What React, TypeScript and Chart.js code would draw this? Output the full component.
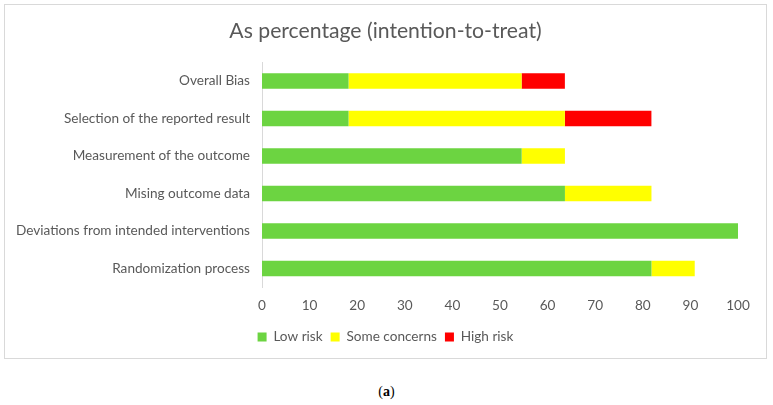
import React, { useEffect, useRef } from "react";
import { Chart, registerables } from "chart.js";

Chart.register(...registerables);

const domains = [
  "Overall Bias",
  "Selection of the reported result",
  "Measurement of the outcome",
  "Mising outcome data",
  "Deviations from intended interventions",
  "Randomization process",
];

// Share of the 11 trials per judgement, in percent
const lowRisk = [18.18, 18.18, 54.55, 63.64, 100, 81.82];
const someConcerns = [36.36, 45.45, 9.09, 18.18, 0, 9.09];
const highRisk = [9.09, 18.18, 0, 0, 0, 0];

const xTicks = [0, 10, 20, 30, 40, 50, 60, 70, 80, 90, 100];

const textColor = "#595959";
const fontFamily = "Lato, 'Open Sans', sans-serif";

export default function App() {
  const canvasRef = useRef<HTMLCanvasElement | null>(null);

  useEffect(() => {
    if (!canvasRef.current) return;
    const chart = new Chart(canvasRef.current, {
      type: "bar",
      data: {
        labels: domains,
        datasets: [
          { label: "Low risk", data: lowRisk, backgroundColor: "#6cd441" },
          { label: "Some concerns", data: someConcerns, backgroundColor: "#ffff00" },
          { label: "High risk", data: highRisk, backgroundColor: "#ff0000" },
        ],
      },
      options: {
        indexAxis: "y",
        animation: false,
        responsive: true,
        maintainAspectRatio: false,
        layout: { padding: { left: 0, right: 0, top: 0, bottom: 4.2 } },
        datasets: {
          bar: { barPercentage: 0.41, categoryPercentage: 1 },
        },
        scales: {
          x: {
            stacked: true,
            min: 0,
            max: 100,
            afterBuildTicks: (scale: any) => {
              scale.ticks = xTicks.map((v) => ({ value: v }));
            },
            afterFit: (scale: any) => {
              scale.height = 35;
              scale.paddingRight = 28;
            },
            grid: { display: false, drawTicks: false },
            border: { display: false },
            ticks: {
              color: textColor,
              font: { family: fontFamily, size: 13.6 },
              padding: 10.6,
              maxRotation: 0,
            },
          },
          y: {
            stacked: true,
            afterFit: (scale: any) => {
              scale.width = 257;
            },
            grid: { display: false, drawTicks: false },
            border: { display: true, color: "#d9d9d9", width: 1 },
            ticks: {
              color: textColor,
              font: { family: fontFamily, size: 13.6 },
              padding: 12,
            },
          },
        },
        plugins: {
          title: {
            display: true,
            text: "As percentage (intention-to-treat)",
            color: textColor,
            font: { family: fontFamily, size: 21.2, weight: "normal" },
            padding: { top: 13.5, bottom: 18.3 },
          },
          legend: {
            position: "bottom",
            labels: {
              color: textColor,
              font: { family: fontFamily, size: 13.6 },
              boxWidth: 9,
              boxHeight: 9,
              padding: 8,
            },
          },
          tooltip: { enabled: false },
        },
      },
    });
    return () => chart.destroy();
  }, []);

  return (
    <div style={{ position: "fixed", left: 0, top: 0, width: 773, height: 405, background: "#fff" }}>
      <div
        style={{
          position: "absolute",
          left: 4,
          top: 4,
          width: 761,
          height: 353,
          border: "1px solid #d9d9d9",
        }}
      />
      <div style={{ position: "absolute", left: 5, top: 5, width: 761, height: 353 }}>
        <canvas ref={canvasRef} />
      </div>
      <div
        style={{
          position: "absolute",
          left: 0,
          width: 773,
          top: 384,
          textAlign: "center",
          fontFamily: "'Liberation Serif', serif",
          fontSize: 14,
          color: "#000",
        }}
      >
        (<b>a</b>)
      </div>
    </div>
  );
}
